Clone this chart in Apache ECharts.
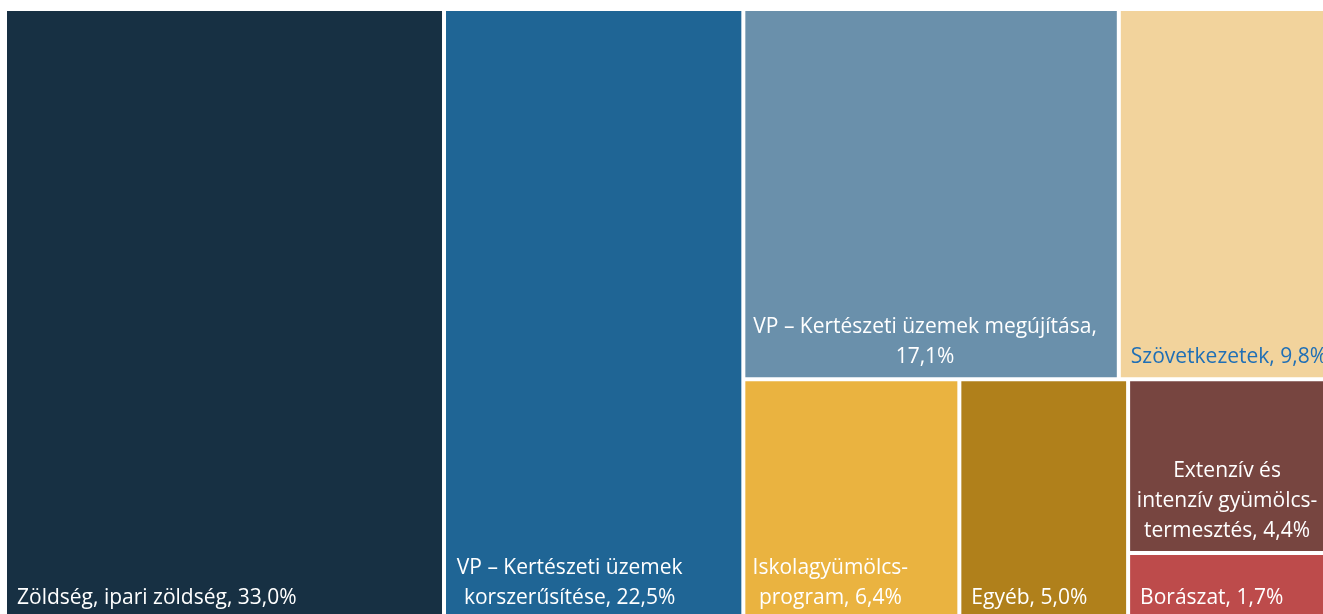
<!DOCTYPE html>
<html>
<head>
<meta charset="utf-8">
<script src="https://cdn.jsdelivr.net/npm/echarts@6/dist/echarts.min.js"></script>
<style>
html, body { margin: 0; padding: 0; background: #fff; }
#chart { width: 1323px; height: 614px; }
</style>
</head>
<body>
<div id="chart"></div>
<script>
// kategóriák (sortörésekkel, ahogy a képen) és részesedések (%)
var names = [
    'Zöldség, ipari zöldség',
    'VP – Kertészeti üzemek\nkorszerűsítése',
    'VP – Kertészeti üzemek megújítása',
    'Szövetkezetek',
    'Iskolagyümölcs-\nprogram',
    'Egyéb',
    'Extenzív és\nintenzív gyümölcs-\ntermesztés',
    'Borászat'
];
var shares = [33.0, 22.5, 17.1, 9.8, 6.4, 5.0, 4.4, 1.7];
var colors = ['#173043', '#1f6595', '#6a90ab', '#f2d39c', '#eab340', '#b0801b', '#774540', '#bd4b4b'];

// címke elhelyezés
var labelOpt = {
    1: { position: 'insideBottom', offset: [-24, 0] },
    2: { position: 'insideBottom', offset: [-6, 0] },
    3: { color: '#1f6fb6' },
    4: { position: 'insideBottom', offset: [-21, 0] },
    6: { position: 'insideBottom', offset: [-4, 0] }
};
var breakBeforeValue = { 2: true };

function fmt(v) {
    return v.toFixed(1).replace('.', ',') + '%';
}

function leaf(i) {
    return {
        name: names[i],
        value: shares[i],
        idx: i,
        itemStyle: { color: colors[i] },
        label: labelOpt[i] || {}
    };
}

// csoportosítás a kép elrendezése szerint
var tree = [
    leaf(0),
    leaf(1),
    { name: '', children: [
        { name: '', children: [leaf(2), leaf(3)] },
        { name: '', children: [leaf(4), leaf(5), { name: '', children: [leaf(6), leaf(7)] }] }
    ] }
];

var myChart = echarts.init(document.getElementById('chart'));
var option = {
    animation: false,
    series: [{
        type: 'treemap',
        left: 7,
        top: 11,
        width: 1325,
        height: 607,
        roam: false,
        nodeClick: false,
        sort: false,
        squareRatio: 1,
        breadcrumb: { show: false },
        upperLabel: { show: false },
        itemStyle: { borderWidth: 0, gapWidth: 4, borderColor: '#fff' },
        label: {
            show: true,
            position: 'insideBottomLeft',
            distance: 5,
            offset: [5, 0],
            padding: 0,
            color: '#fff',
            fontFamily: 'Open Sans',
            fontSize: 21,
            lineHeight: 30,
            overflow: 'none',
            formatter: function (p) {
                var i = p.data.idx;
                return p.name + (breakBeforeValue[i] ? ',\n' : ', ') + fmt(p.value);
            }
        },
        emphasis: { disabled: true },
        data: tree
    }]
};
myChart.setOption(option);
</script>
</body>
</html>
